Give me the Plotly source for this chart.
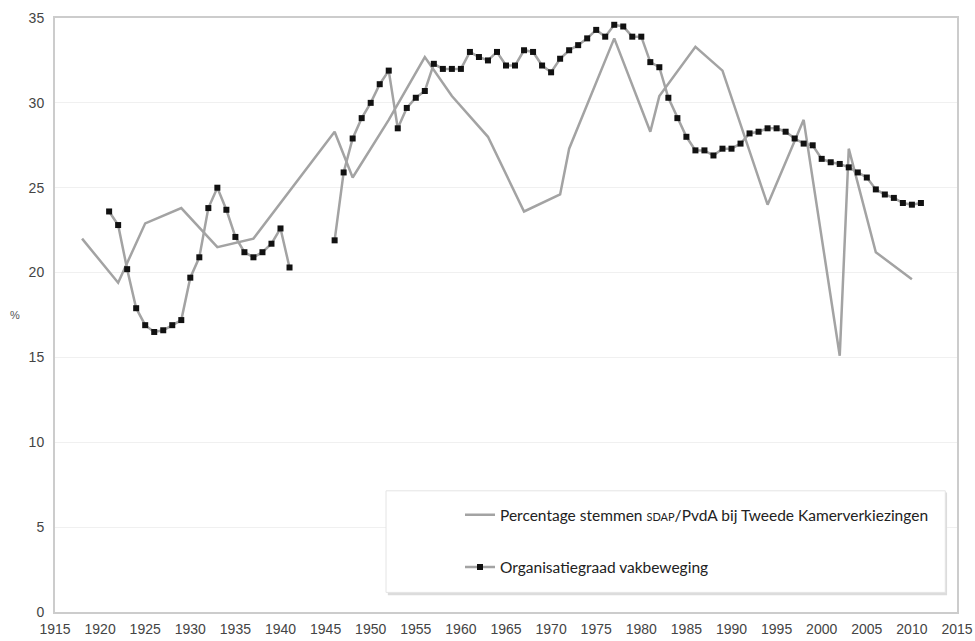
import plotly.graph_objects as go

# SDAP/PvdA share of votes at Tweede Kamer elections (%)
vote_years = [1918, 1922, 1925, 1929, 1933, 1937, 1946, 1948, 1952, 1956, 1959, 1963,
              1967, 1971, 1972, 1977, 1981, 1982, 1986, 1989, 1994, 1998, 2002, 2003,
              2006, 2010]
vote_pct = [22.0, 19.4, 22.9, 23.8, 21.5, 22.0, 28.3, 25.6, 29.0, 32.7, 30.4, 28.0,
            23.6, 24.6, 27.3, 33.8, 28.3, 30.4, 33.3, 31.9, 24.0, 29.0, 15.1, 27.3,
            21.2, 19.6]

# Union density (organisatiegraad vakbeweging), %
union_years = list(range(1921, 2012))
union_pct = [
    23.6, 22.8, 20.2, 17.9, 16.9, 16.5, 16.6, 16.9, 17.2, 19.7,   # 1921-1930
    20.9, 23.8, 25.0, 23.7, 22.1, 21.2, 20.9, 21.2, 21.7, 22.6,   # 1931-1940
    20.3, None, None, None, None, 21.9, 25.9, 27.9, 29.1, 30.0,   # 1941-1950
    31.1, 31.9, 28.5, 29.7, 30.3, 30.7, 32.3, 32.0, 32.0, 32.0,   # 1951-1960
    33.0, 32.7, 32.5, 33.0, 32.2, 32.2, 33.1, 33.0, 32.2, 31.8,   # 1961-1970
    32.6, 33.1, 33.4, 33.8, 34.3, 33.9, 34.6, 34.5, 33.9, 33.9,   # 1971-1980
    32.4, 32.1, 30.3, 29.1, 28.0, 27.2, 27.2, 26.9, 27.3, 27.3,   # 1981-1990
    27.6, 28.2, 28.3, 28.5, 28.5, 28.3, 27.9, 27.6, 27.5, 26.7,   # 1991-2000
    26.5, 26.4, 26.2, 25.9, 25.6, 24.9, 24.6, 24.4, 24.1, 24.0,   # 2001-2010
    24.1,                                                         # 2011
]

x_ticks = list(range(1915, 2016, 5))
y_ticks = list(range(0, 36, 5))

name_votes = ("Percentage stemmen <span style='font-size:11px'>SDAP</span>"
              "/PvdA bij Tweede Kamerverkiezingen")
name_union = "Organisatiegraad vakbeweging"

GREY = "#a3a3a3"

fig = go.Figure()
fig.add_trace(go.Scatter(
    x=vote_years, y=vote_pct, mode="lines", name=name_votes,
    line=dict(color=GREY, width=2.5), legend="legend",
))
fig.add_trace(go.Scatter(
    x=union_years, y=union_pct, mode="lines+markers", name=name_union,
    line=dict(color=GREY, width=2.5), connectgaps=False,
    marker=dict(symbol="square", size=6, color="#111111"),
    legend="legend2",
))

# legend frame (with soft shadow)
fig.add_shape(type="rect", xref="paper", yref="paper",
              x0=0.369, x1=0.989, y0=0.028, y1=0.201,
              line=dict(width=0), fillcolor="#dcdcdc", layer="above")
fig.add_shape(type="rect", xref="paper", yref="paper",
              x0=0.367, x1=0.987, y0=0.033, y1=0.204,
              line=dict(width=1, color="#e4e4e4"), fillcolor="white", layer="above")

fig.add_annotation(text="%", xref="paper", yref="y", x=0, y=17.5, xshift=-40,
                   xanchor="center", showarrow=False,
                   font=dict(family="Liberation Sans", size=11, color="#555"))

legend_font = dict(family="Lato", size=15.5, color="#222")
fig.update_layout(
    width=975, height=641,
    margin=dict(l=55, r=18, t=18, b=29, autoexpand=False),
    paper_bgcolor="white", plot_bgcolor="white",
    font=dict(family="Liberation Sans", size=14, color="#444"),
    showlegend=True,
    legend=dict(x=0.449, y=0.163, xanchor="left", yanchor="middle",
                bgcolor="rgba(0,0,0,0)", borderwidth=0, font=legend_font),
    legend2=dict(x=0.449, y=0.075, xanchor="left", yanchor="middle",
                 bgcolor="rgba(0,0,0,0)", borderwidth=0, font=legend_font),
    xaxis=dict(range=[1915, 2015], tickvals=x_ticks, showgrid=False, automargin=False,
               showline=True, mirror=True, linecolor="#cccccc", linewidth=2,
               ticks="", zeroline=False, ticklabelstandoff=3,
               tickfont=dict(size=14, color="#444")),
    yaxis=dict(range=[0, 35], tickvals=y_ticks, showgrid=True, gridcolor="#f0f0f0",
               gridwidth=1, showline=True, mirror=True, linecolor="#cccccc", linewidth=2,
               ticks="", zeroline=False, ticklabelstandoff=6, automargin=False,
               tickfont=dict(size=14, color="#444")),
)

fig.write_html(
    "out.html",
    config={"displayModeBar": False},
    post_script="document.body.style.margin='0';document.body.style.padding='0';"
                "document.body.style.overflow='hidden';",
)
